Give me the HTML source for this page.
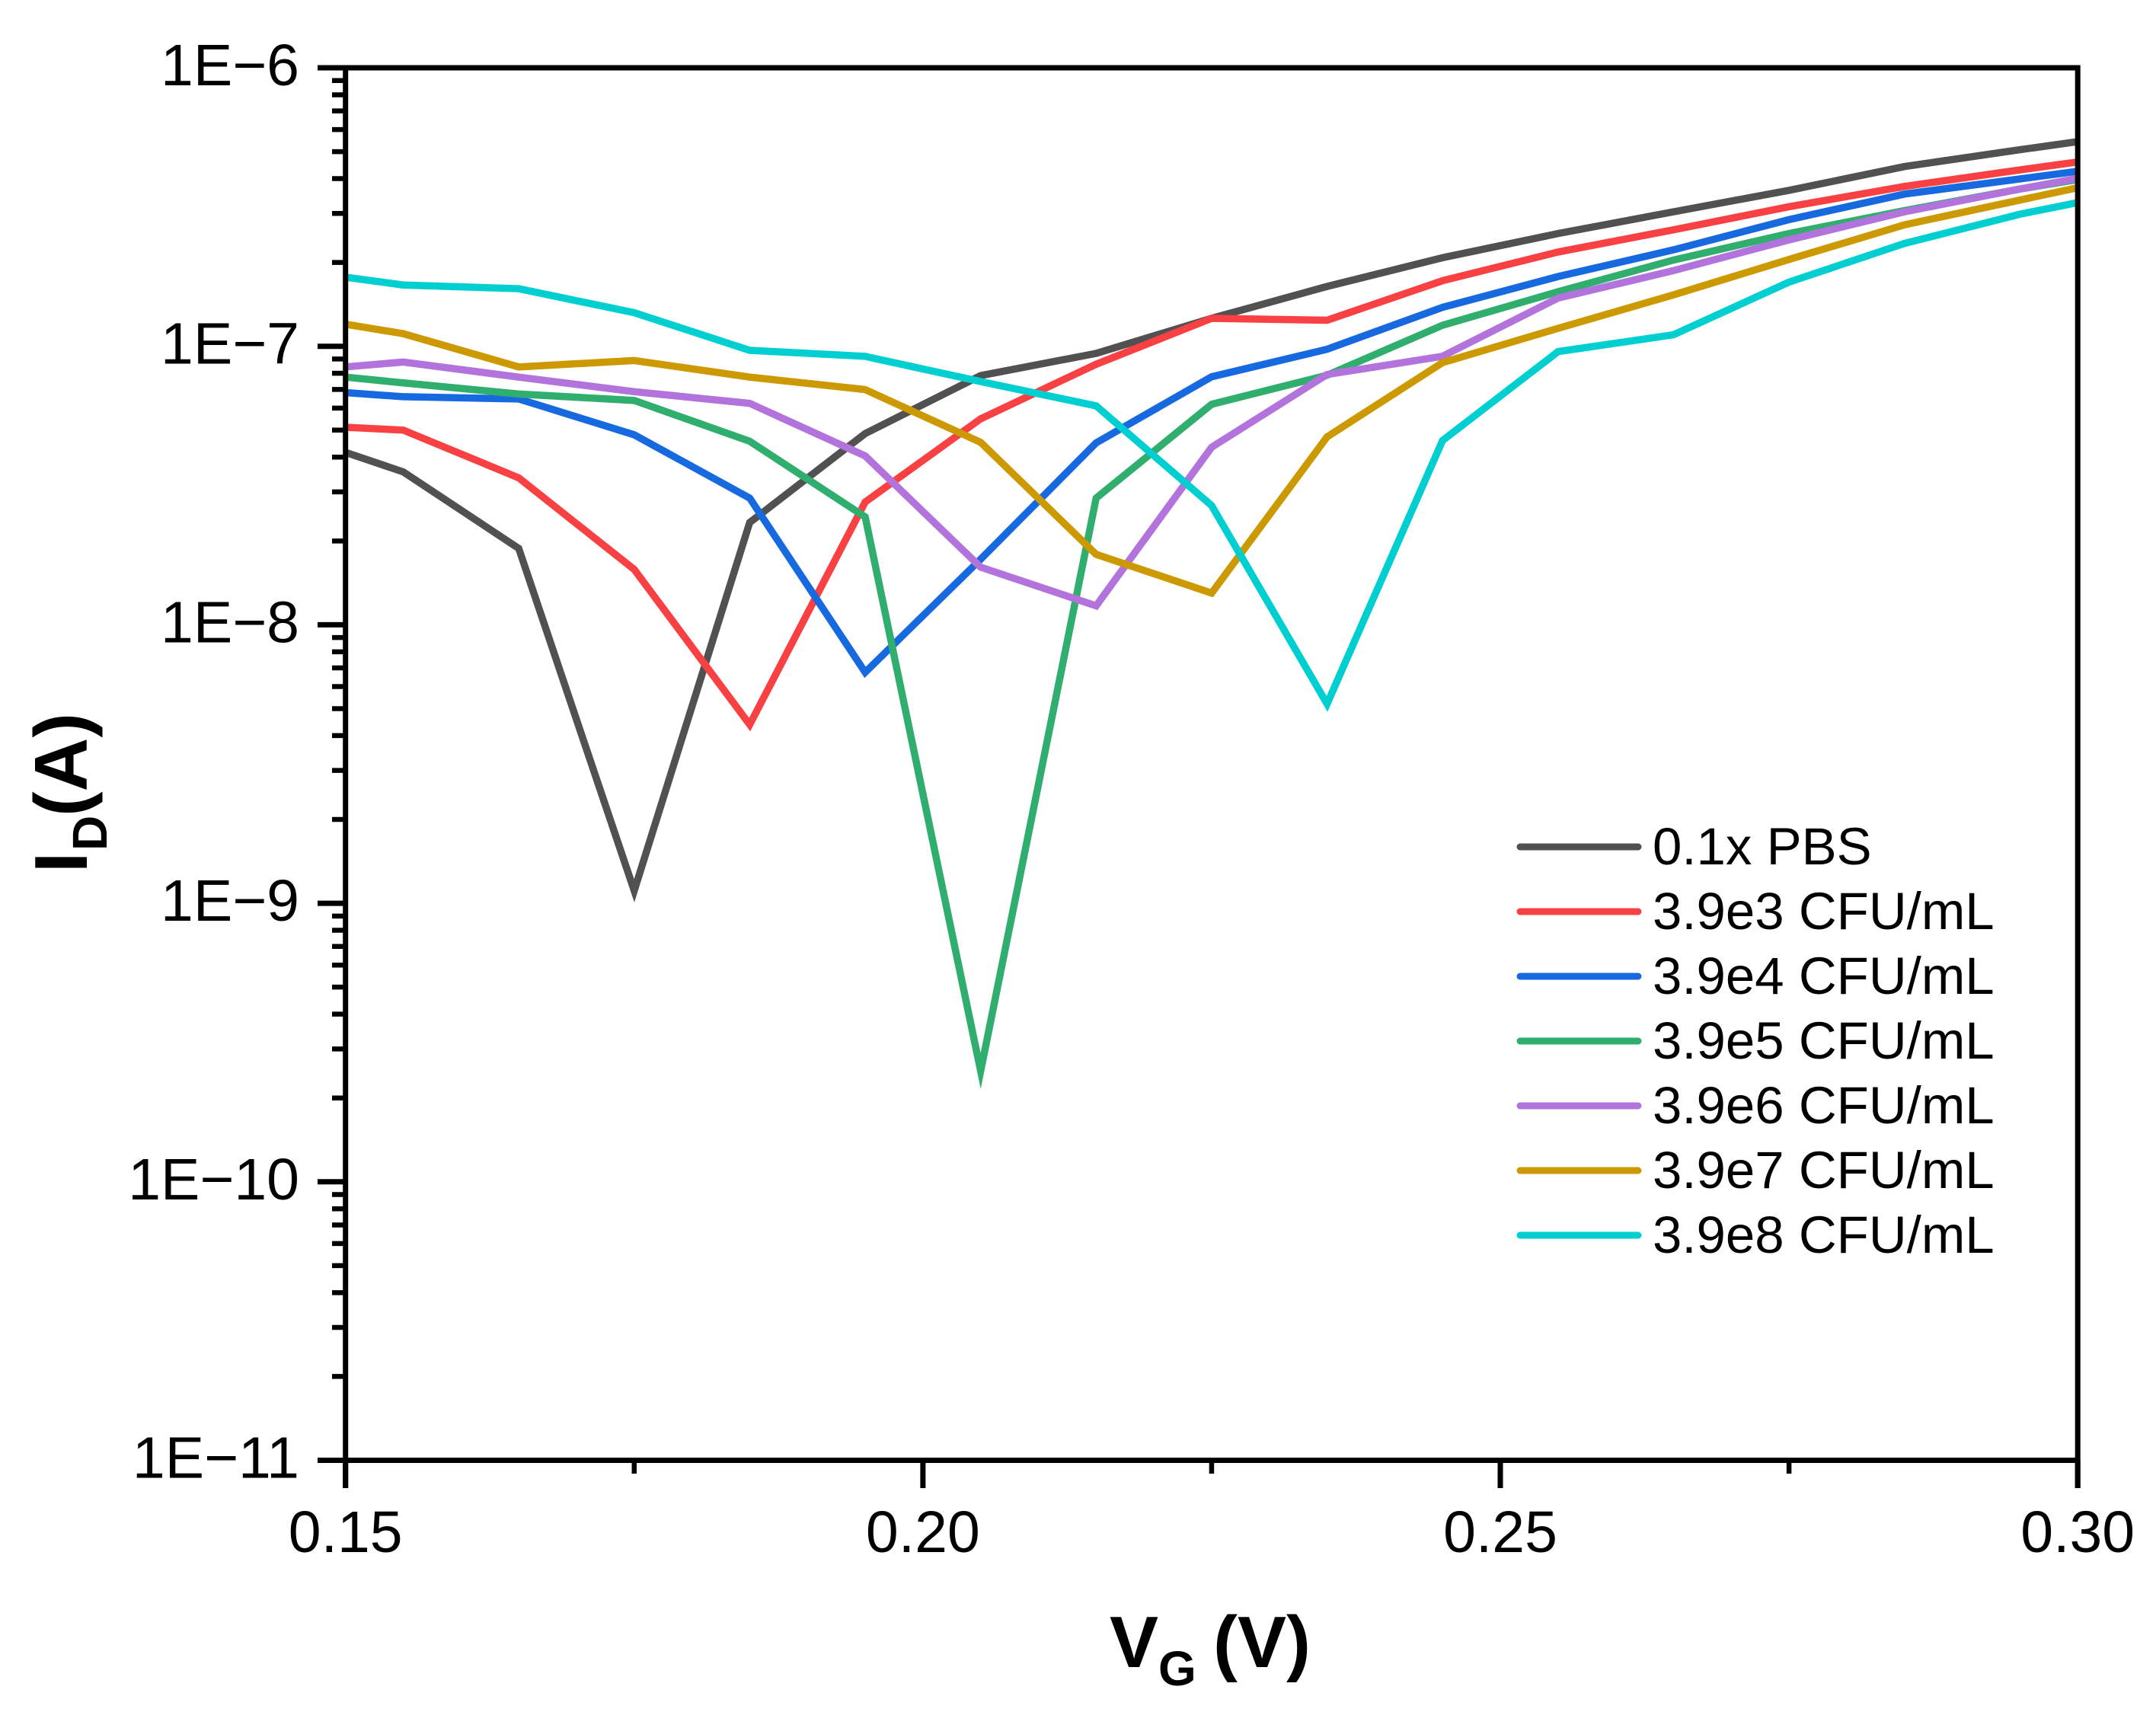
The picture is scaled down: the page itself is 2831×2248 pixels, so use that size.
<!DOCTYPE html>
<html lang="en">
<head>
<meta charset="utf-8">
<title>Transfer curves: drain current vs gate voltage</title>
<style>
html,body{margin:0;padding:0;background:#fff;}
svg{display:block;font-family:"Liberation Sans",Arial,sans-serif;}
</style>
</head>
<body>
<svg id="chart" xmlns="http://www.w3.org/2000/svg" width="2831" height="2248" viewBox="0 0 2831 2248">
  <rect x="0" y="0" width="2831" height="2248" fill="#ffffff"/>
  <defs><clipPath id="plot-clip"><rect x="453.5" y="89" width="2274.7" height="1828.5"/></clipPath></defs>
  <g id="series-layer" clip-path="url(#plot-clip)"></g>
  <g id="axis-layer"></g>

  <text y="2189" font-size="96" font-weight="700" fill="#000"><tspan x="1457">V</tspan><tspan x="1521" y="2213" font-size="64">G</tspan><tspan x="1593" y="2189">(V)</tspan></text>
  <text transform="translate(114,1146) rotate(-90)" font-size="98" font-weight="700" fill="#000"><tspan x="0" y="0">I</tspan><tspan x="29" y="26" font-size="64">D</tspan><tspan x="74" y="0">(A)</tspan></text>

  <g font-size="69" fill="#000">
    <g><line x1="1996" x2="2151" y1="1112" y2="1112" stroke="#515151" stroke-width="9" stroke-linecap="round"/><text x="2170" y="1135">0.1x PBS</text></g>
    <g><line x1="1996" x2="2151" y1="1197" y2="1197" stroke="#f94144" stroke-width="9" stroke-linecap="round"/><text x="2170" y="1220">3.9e3 CFU/mL</text></g>
    <g><line x1="1996" x2="2151" y1="1282" y2="1282" stroke="#1769e0" stroke-width="9" stroke-linecap="round"/><text x="2170" y="1305">3.9e4 CFU/mL</text></g>
    <g><line x1="1996" x2="2151" y1="1367" y2="1367" stroke="#2fae6e" stroke-width="9" stroke-linecap="round"/><text x="2170" y="1390">3.9e5 CFU/mL</text></g>
    <g><line x1="1996" x2="2151" y1="1452" y2="1452" stroke="#b373dc" stroke-width="9" stroke-linecap="round"/><text x="2170" y="1475">3.9e6 CFU/mL</text></g>
    <g><line x1="1996" x2="2151" y1="1537" y2="1537" stroke="#cc9900" stroke-width="9" stroke-linecap="round"/><text x="2170" y="1560">3.9e7 CFU/mL</text></g>
    <g><line x1="1996" x2="2151" y1="1622" y2="1622" stroke="#00cfd1" stroke-width="9" stroke-linecap="round"/><text x="2170" y="1645">3.9e8 CFU/mL</text></g>
  </g>
</svg>
<script>
// Gate voltage samples (V)
const gateVoltage = [0.15,0.155,0.165,0.175,0.185,0.195,0.205,0.215,0.225,0.235,0.245,0.255,0.265,0.275,0.285,0.295,0.30];
// Drain current per series (nA)
const pbs   = [41.6,35.4,18.8,1.11,23.3,48.6,78.5,94.3,126,164,208,254,304,363,442,508,543];
const cfu3  = [51.2,50.0,33.7,15.8,4.38,27.6,54.9,86.2,126,124,172,218,262,317,375,430,459];
const cfu4  = [68.2,65.9,64.7,48.1,28.5,6.75,17.2,45.0,77.7,97.6,138,178,222,285,352,399,425];
const cfu5  = [77.5,73.9,67.4,63.9,45.6,24.4,0.250,28.5,61.9,78.7,119,157,204,254,307,367,397];
const cfu6  = [84.3,87.8,77.5,68.7,62.4,40.4,16.1,11.7,43.4,79.2,92.1,149,187,241,304,367,401];
const cfu7  = [120,111,84.3,88.9,77.5,69.9,45.2,17.9,13.0,47.3,87.4,116,153,205,273,335,371];
const cfu8  = [177,166,161,132,96.7,92.0,74.7,61.1,26.8,5.2,45.9,95.7,110,170,234,298,328];
const seriesNames  = ['pbs','3.9e3','3.9e4','3.9e5','3.9e6','3.9e7','3.9e8'];
const seriesColors = ['#515151','#f94144','#1769e0','#2fae6e','#b373dc','#cc9900','#00cfd1'];
const seriesValues = [pbs,cfu3,cfu4,cfu5,cfu6,cfu7,cfu8];
// Axis ticks
const xMajorTicks  = [0.15,0.20,0.25,0.30];
const xMajorLabels = ['0.15','0.20','0.25','0.30'];
const xMinorTicks  = [0.175,0.225,0.275];
const yDecades     = [-6,-7,-8,-9,-10,-11];
const yLabels      = ['1E\u22126','1E\u22127','1E\u22128','1E\u22129','1E\u221210','1E\u221211'];
const yMinorFactors = [2,3,4,5,6,7,8,9];

const SVGNS = 'http://www.w3.org/2000/svg';
const plot = {left:453.7, right:2728.2, top:89, decadePx:365.7};
function xScale(v){ return plot.left + (v-0.15)/(0.30-0.15)*(plot.right-plot.left); }
function yScaleLog(exp){ return plot.top + (-6-exp)*plot.decadePx; }
function yScale(nA){ return yScaleLog(Math.log10(nA)-9); }
const bottom = yScaleLog(-11);

const seriesLayer = document.getElementById('series-layer');
const axisLayer = document.getElementById('axis-layer');

seriesValues.forEach(function(vals,i){
  const d = vals.map(function(v,j){ return (j?'L':'M')+xScale(gateVoltage[j]).toFixed(2)+' '+yScale(v).toFixed(2); }).join(' ');
  const p = document.createElementNS(SVGNS,'path');
  p.setAttribute('d',d);
  p.setAttribute('fill','none');
  p.setAttribute('stroke',seriesColors[i]);
  p.setAttribute('stroke-width','9.5');
  p.setAttribute('stroke-linejoin','miter');
  p.setAttribute('stroke-miterlimit','10');
  
  
  seriesLayer.appendChild(p);
});

function addRule(x1,y1,x2,y2,w,name){
  const l = document.createElementNS(SVGNS,'line');
  l.setAttribute('x1',x1); l.setAttribute('y1',y1);
  l.setAttribute('x2',x2); l.setAttribute('y2',y2);
  l.setAttribute('stroke','#000');
  l.setAttribute('stroke-width',w);
  
  
  axisLayer.appendChild(l);
}
function addLabel(x,y,anchor,txt,name){
  const t = document.createElementNS(SVGNS,'text');
  t.setAttribute('x',x); t.setAttribute('y',y);
  t.setAttribute('text-anchor',anchor);
  t.setAttribute('font-size','77');
  t.setAttribute('fill','#000');
  t.textContent = txt;
  
  
  axisLayer.appendChild(t);
}

// frame
addRule(417,plot.top,plot.right+3.3,plot.top,7,'top-axis-line');
addRule(417,bottom,plot.right+3.3,bottom,7,'bottom-axis-line');
addRule(plot.left,plot.top-3.5,plot.left,1954,7,'left-axis-line');
addRule(plot.right,plot.top-3.5,plot.right,1954,7,'right-axis-line');

// y ticks
yDecades.forEach(function(e,i){
  const y = yScaleLog(e);
  addRule(417,y,plot.left,y,7,'y-major-tick');
  addLabel(393,y+23,'end',yLabels[i],'y-tick-label');
  if(e>-11){
    yMinorFactors.forEach(function(f){
      const ym = yScaleLog(e-1+Math.log10(f));
      addRule(436,ym,plot.left,ym,6.5,'y-minor-tick');
    });
  }
});
// x ticks
xMajorTicks.forEach(function(v,i){
  const x = xScale(v);
  addRule(x,bottom,x,1954,7,'x-major-tick');
  addLabel(x,2038,'middle',xMajorLabels[i],'x-tick-label');
});
xMinorTicks.forEach(function(v){
  const x = xScale(v);
  addRule(x,bottom,x,1935,6.5,'x-minor-tick');
});
</script>
</body>
</html>
